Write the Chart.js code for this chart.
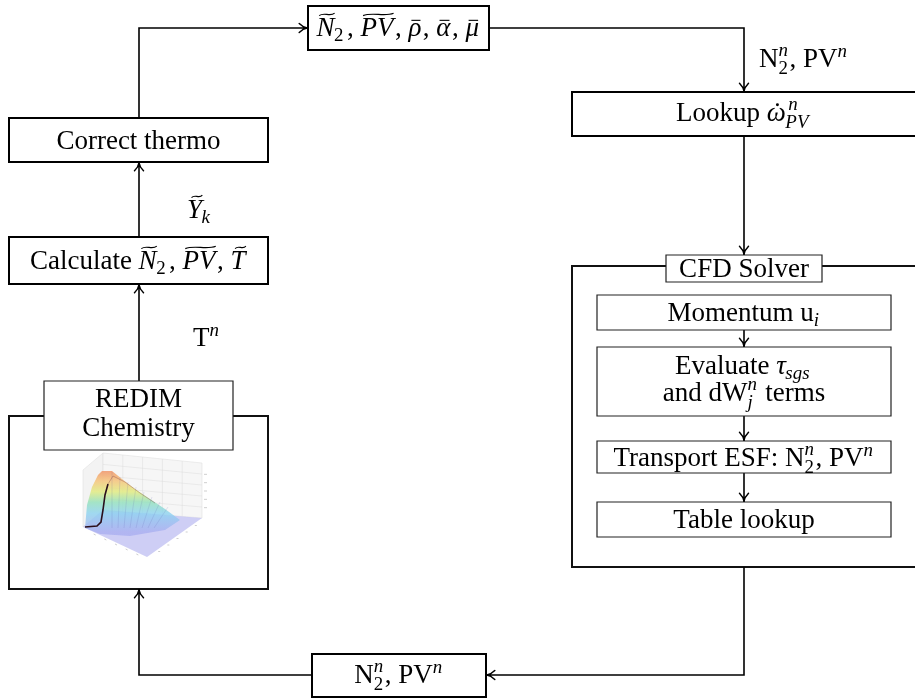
<!DOCTYPE html>
<html><head><meta charset="utf-8">
<script src="https://cdn.jsdelivr.net/npm/chart.js@4.4.1/dist/chart.umd.min.js"></script>
<style>html,body{margin:0;padding:0;background:#fff;overflow:hidden}canvas{display:block}</style>
</head><body>
<canvas id="c" width="915" height="699"></canvas>
<script>
// ---------- diagram data (data units of the hidden x/y scales) ----------
const boxIds    = ['redimOuter','cfdOuter','state','lookup','thermo','calc','redim','cfd','mom','eval','esf','table','feedback'];
const boxKinds  = ['container','container','main','main','main','main','thin','thin','thin','thin','thin','thin','main'];
const boxLeft   = [9, 572, 308, 572, 9, 9, 44, 666, 597, 597, 597, 597, 312];
const boxTop    = [416, 266, 6, 92, 118, 237, 381, 255, 295, 347, 441, 502, 654];
const boxRight  = [268, 930, 489, 930, 268, 268, 233, 822, 891, 891, 891, 891, 486];
const boxBottom = [589, 567, 50, 136, 162, 284, 450, 282, 330, 416, 473, 537, 697];

// rich-text helpers
const r = t => ({t});
const i = (t, acc) => ({t, it:true, acc});
const sc = (sup, sub) => ({sup, sub});

const boxText = [
  [], [],
  [[i('N','wt'), sc(null, r('2')), r(', '), i('PV','wt'), r(', '), i('ρ','bar'), r(', '), i('α','bar'), r(', '), i('μ','bar')]],
  [[r('Lookup '), i('ω','dot'), sc(i('n'), i('PV'))]],
  [[r('Correct thermo')]],
  [[r('Calculate '), i('N','wt'), sc(null, r('2')), r(', '), i('PV','wt'), r(', '), i('T','t')]],
  [[r('REDIM')], [r('Chemistry')]],
  [[r('CFD Solver')]],
  [[r('Momentum u'), sc(null, i('i'))]],
  [[r('Evaluate '), i('τ'), sc(null, i('sgs'))], [r('and dW'), sc(i('n'), i('j')), r(' terms')]],
  [[r('Transport ESF: N'), sc(i('n'), r('2')), r(', PV'), sc(i('n'), null)]],
  [[r('Table lookup')]],
  [[r('N'), sc(i('n'), r('2')), r(', PV'), sc(i('n'), null)]]
];
const boxBaselines = [[], [], [36], [121], [149], [269], [407, 436], [277], [321], [374, 401], [466], [528], [683]];

const edgePaths = [
  [[139,118],[139,28],[308,28]],
  [[489,28],[744,28],[744,92]],
  [[744,136],[744,255]],
  [[139,237],[139,162]],
  [[139,381],[139,284]],
  [[744,330],[744,347]],
  [[744,416],[744,441]],
  [[744,473],[744,502]],
  [[744,567],[744,675],[486,675]],
  [[312,675],[139,675],[139,589]]
];
const edgeLabelText = [
  [i('Y','t'), sc(null, i('k'))],
  [r('T'), sc(i('n'), null)],
  [r('N'), sc(i('n'), r('2')), r(', PV'), sc(i('n'), null)]
];
const edgeLabelX = [187, 193, 759];
const edgeLabelY = [218, 346, 67];

// thumbnail of the REDIM manifold (data units)
const paneLeft  = [[83,470],[103,453],[103,510],[83,527]];
const paneBack  = [[103,453],[202,463],[202,518],[103,510]];
const paneFloor = [[83,527],[103,510],[202,518],[147,557]];
const surfacePoly = [[85,528],[87,505],[92,487],[98,475],[102,471],[112,471],[122,479],[135,489],[150,499],[165,509],[180,520],[165,530],[130,536],[100,534]];
const manifoldCurve = [[85,527],[97,526],[101,522],[103,510],[105,495],[108,484]];
const ridgeCurve = [[108,484],[113,476],[125,482],[140,493],[155,503]];

// ---------- styles ----------
const SERIF = '"Liberation Serif","Times New Roman",serif';
const FS = 27;
const boxStyle = {container:{w:2,c:'#111'}, main:{w:2,c:'#000'}, thin:{w:1.2,c:'#222'}};

function setFont(ctx, it, size){ ctx.font = (it ? 'italic ' : '') + size.toFixed(1) + 'px ' + SERIF; }
function isScript(tok){ return tok.sup !== undefined || tok.sub !== undefined; }
function measureRun(ctx, tok){
  if (isScript(tok)) {
    const ss = FS*0.7; let w = 0;
    if (tok.sup){ setFont(ctx, tok.sup.it, ss); w = Math.max(w, ctx.measureText(tok.sup.t).width); }
    if (tok.sub){ setFont(ctx, tok.sub.it, ss); w = Math.max(w, ctx.measureText(tok.sub.t).width); }
    return w + 1.5;
  }
  setFont(ctx, tok.it, FS);
  return ctx.measureText(tok.t).width + (tok.it ? 1.5 : 0);
}
function drawAccent(ctx, tok, x, w, base){
  const cap = /[A-Z]/.test(tok.t);
  const top = base - (cap ? FS*0.66 : FS*0.46);
  const skew = tok.it ? (cap ? FS*0.09 : FS*0.04) : 0;
  ctx.save(); ctx.strokeStyle = '#000'; ctx.fillStyle = '#000';
  if (tok.acc === 'wt' || tok.acc === 't'){
    const y = top - FS*0.14;
    let x0, x1;
    if (tok.acc === 'wt'){ x0 = x + skew*0.7 + 1; x1 = x + w + skew*0.7 - 1.5; }
    else { const c = x + w/2 + skew; x0 = c - FS*0.2; x1 = c + FS*0.2; }
    const a = FS*0.065;
    ctx.lineWidth = 1.1;
    ctx.beginPath(); ctx.moveTo(x0, y + a*0.7);
    ctx.bezierCurveTo(x0 + (x1-x0)*0.3, y - a*1.5, x0 + (x1-x0)*0.7, y + a*1.5, x1, y - a*0.7);
    ctx.stroke();
  } else if (tok.acc === 'bar'){
    const y = top - FS*0.12;
    ctx.lineWidth = 1.1;
    ctx.beginPath(); ctx.moveTo(x + w*0.15 + skew, y); ctx.lineTo(x + w*0.85 + skew, y); ctx.stroke();
  } else if (tok.acc === 'dot'){
    ctx.beginPath(); ctx.arc(x + w/2 + skew, top - FS*0.14, FS*0.055, 0, Math.PI*2); ctx.fill();
  }
  ctx.restore();
}
function drawRuns(ctx, runs, x, base, align){
  const widths = runs.map(t => measureRun(ctx, t));
  const total = widths.reduce((a,b) => a+b, 0);
  let cx = align === 'center' ? x - total/2 : x;
  ctx.fillStyle = '#000'; ctx.textBaseline = 'alphabetic'; ctx.textAlign = 'left';
  runs.forEach((tok, k) => {
    if (isScript(tok)){
      const ss = FS*0.7, both = tok.sup && tok.sub;
      const prevIt = k > 0 && runs[k-1].it;
      if (tok.sup){ setFont(ctx, tok.sup.it, ss); ctx.fillText(tok.sup.t, cx + (prevIt ? 1 : 0), base - FS*(both ? 0.40 : 0.38)); }
      if (tok.sub){ setFont(ctx, tok.sub.it, ss); ctx.fillText(tok.sub.t, cx - (prevIt ? 2 : 0), base + FS*(both ? 0.25 : 0.2)); }
    } else {
      setFont(ctx, tok.it, FS);
      ctx.fillText(tok.t, cx, base);
      if (tok.acc) drawAccent(ctx, tok, cx, widths[k] - (tok.it ? 1.5 : 0), base);
    }
    cx += widths[k];
  });
}

function arrowHead(ctx, tip, from){
  const dx = tip[0]-from[0], dy = tip[1]-from[1], L = Math.hypot(dx,dy) || 1;
  const ux = dx/L, uy = dy/L, nx = -uy, ny = ux;
  const len = 8, hw = 4.5;
  const t0 = [tip[0] - ux*0.8, tip[1] - uy*0.8];
  const bx = t0[0] - ux*len, by = t0[1] - uy*len;
  ctx.save();
  ctx.strokeStyle = '#000'; ctx.fillStyle = '#000';
  ctx.lineWidth = 1.5; ctx.lineCap = 'round'; ctx.lineJoin = 'round';
  ctx.beginPath();
  ctx.moveTo(bx + nx*hw, by + ny*hw);
  ctx.quadraticCurveTo(t0[0] - ux*4 + nx*0.6, t0[1] - uy*4 + ny*0.6, t0[0], t0[1]);
  ctx.quadraticCurveTo(t0[0] - ux*4 - nx*0.6, t0[1] - uy*4 - ny*0.6, bx - nx*hw, by - ny*hw);
  ctx.stroke();
  ctx.beginPath();
  ctx.moveTo(t0[0], t0[1]);
  ctx.lineTo(t0[0] - ux*5 + nx*1.6, t0[1] - uy*5 + ny*1.6);
  ctx.lineTo(t0[0] - ux*4, t0[1] - uy*4);
  ctx.lineTo(t0[0] - ux*5 - nx*1.6, t0[1] - uy*5 - ny*1.6);
  ctx.closePath(); ctx.fill();
  ctx.restore();
}

function drawThumb(ctx, P){
  const poly = (pts) => { ctx.beginPath(); pts.forEach((p,k) => { const q = P(p); k ? ctx.lineTo(q[0],q[1]) : ctx.moveTo(q[0],q[1]); }); ctx.closePath(); };
  ctx.save();
  ctx.lineWidth = 0.6;
  poly(paneLeft);  ctx.fillStyle = '#f3f3f3'; ctx.fill(); ctx.strokeStyle = '#e0e0e0'; ctx.stroke();
  poly(paneBack);  ctx.fillStyle = '#f6f6f6'; ctx.fill(); ctx.stroke();
  ctx.strokeStyle = 'rgba(215,215,215,0.8)'; ctx.lineWidth = 0.5;
  for (let k = 1; k < 5; k++){
    const t = k/5;
    const a = P([103 + 99*t, 453 + 10*t]), b = P([103 + 99*t, 510 + 8*t]);
    ctx.beginPath(); ctx.moveTo(a[0],a[1]); ctx.lineTo(b[0],b[1]); ctx.stroke();
    const c = P([103, 453 + 57*t]), d = P([202, 463 + 55*t]);
    ctx.beginPath(); ctx.moveTo(c[0],c[1]); ctx.lineTo(d[0],d[1]); ctx.stroke();
  }
  poly(paneFloor); ctx.fillStyle = 'rgba(190,190,242,0.75)'; ctx.fill();
  const g0 = P([0,470]), g1 = P([0,532]);
  const grad = ctx.createLinearGradient(0, g0[1], 0, g1[1]);
  grad.addColorStop(0.0, 'rgba(240,150,110,0.9)');
  grad.addColorStop(0.18, 'rgba(245,200,130,0.9)');
  grad.addColorStop(0.35, 'rgba(225,235,130,0.85)');
  grad.addColorStop(0.52, 'rgba(150,225,190,0.85)');
  grad.addColorStop(0.7, 'rgba(140,210,240,0.8)');
  grad.addColorStop(1.0, 'rgba(170,175,240,0.8)');
  poly(surfacePoly); ctx.fillStyle = grad; ctx.fill();
  ctx.strokeStyle = 'rgba(90,90,170,0.3)'; ctx.lineWidth = 0.5;
  for (let k = 0; k < 8; k++){
    const a = P([112 + k*8, 472 + k*5]), b = P([112 + k*6, 528]);
    ctx.beginPath(); ctx.moveTo(a[0],a[1]); ctx.lineTo(b[0],b[1]); ctx.stroke();
  }
  ctx.strokeStyle = 'rgba(120,120,120,0.6)'; ctx.lineWidth = 0.6;
  for (let k = 1; k < 6; k++){
    const t = k/6, a = P([83 + 64*t, 527 + 30*t]);
    ctx.beginPath(); ctx.moveTo(a[0],a[1]+2); ctx.lineTo(a[0]+2,a[1]+3); ctx.stroke();
    const b = P([147 + 55*t, 557 - 39*t]);
    ctx.beginPath(); ctx.moveTo(b[0]+2,b[1]+1); ctx.lineTo(b[0]+4,b[1]+1); ctx.stroke();
    const c = P([204, 466 + 50*t]);
    ctx.beginPath(); ctx.moveTo(c[0],c[1]); ctx.lineTo(c[0]+3,c[1]); ctx.stroke();
  }
  const line = (pts, col, w) => { ctx.beginPath(); pts.forEach((p,k) => { const q = P(p); k ? ctx.lineTo(q[0],q[1]) : ctx.moveTo(q[0],q[1]); }); ctx.strokeStyle = col; ctx.lineWidth = w; ctx.stroke(); };
  line(ridgeCurve, 'rgba(110,40,60,0.45)', 0.7);
  line(manifoldCurve, '#2a0f1c', 1.6);
  ctx.restore();
}

const diagramPlugin = {
  id: 'diagram',
  afterDatasetsDraw(chart){
    const ctx = chart.ctx, sx = chart.scales.x, sy = chart.scales.y;
    const P = p => [sx.getPixelForValue(p[0]), sy.getPixelForValue(p[1])];
    ctx.save();
    edgePaths.forEach(p => arrowHead(ctx, P(p[p.length-1]), P(p[p.length-2])));
    boxText.forEach((lines, k) => {
      const cx = sx.getPixelForValue((boxLeft[k] + Math.min(boxRight[k], 915)) / 2);
      const centerX = boxIds[k] === 'lookup' ? sx.getPixelForValue(744) : cx;
      lines.forEach((runs, j) => drawRuns(ctx, runs, centerX, sy.getPixelForValue(boxBaselines[k][j]), 'center'));
    });
    edgeLabelText.forEach((runs, k) => drawRuns(ctx, runs, sx.getPixelForValue(edgeLabelX[k]), sy.getPixelForValue(edgeLabelY[k]), 'left'));
    drawThumb(ctx, P);
    ctx.restore();
  }
};

const datasets = [];
boxIds.forEach((id, k) => {
  const st = boxStyle[boxKinds[k]];
  datasets.push({
    label: id,
    data: [{x:boxLeft[k],y:boxTop[k]},{x:boxRight[k],y:boxTop[k]},{x:boxRight[k],y:boxBottom[k]},{x:boxLeft[k],y:boxBottom[k]},{x:boxLeft[k],y:boxTop[k]}],
    showLine: true, borderColor: st.c, borderWidth: st.w, pointRadius: 0, pointHoverRadius: 0,
    fill: boxKinds[k] === 'container' ? false : 'shape', backgroundColor: '#ffffff',
    tension: 0, borderCapStyle: 'square', borderJoinStyle: 'miter',
    order: boxKinds[k] === 'container' ? 3 : 1
  });
});
edgePaths.forEach((p, k) => {
  datasets.push({
    label: 'edge' + k, data: p.map(q => ({x:q[0], y:q[1]})),
    showLine: true, borderColor: '#000', borderWidth: 1.6, pointRadius: 0, pointHoverRadius: 0,
    fill: false, tension: 0, borderJoinStyle: 'miter', order: 2
  });
});

new Chart(document.getElementById('c'), {
  type: 'scatter',
  data: { datasets },
  options: {
    responsive: false, animation: false, devicePixelRatio: 1, events: [],
    layout: { padding: 0 },
    plugins: { legend: { display: false }, tooltip: { enabled: false }, title: { display: false } },
    scales: {
      x: { type: 'linear', min: 0, max: 915, display: false },
      y: { type: 'linear', min: 0, max: 699, reverse: true, display: false }
    }
  },
  plugins: [diagramPlugin]
});
</script>
</body></html>
